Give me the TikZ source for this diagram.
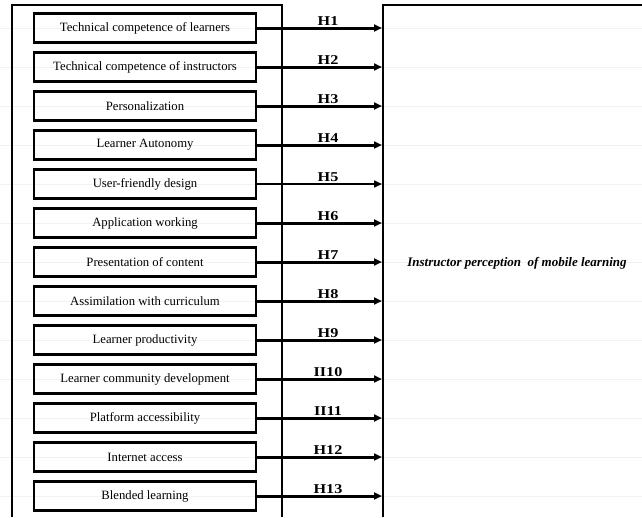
\documentclass[tikz,border=0pt]{standalone}
\usepackage{fontspec}
\setmainfont{Liberation Serif}
\usetikzlibrary{arrows.meta}
\begin{document}
\begin{tikzpicture}[x=1pt,y=-1pt,
  factor/.style={draw,line width=2.2pt,minimum width=222pt,minimum height=29pt,inner sep=0pt,font=\fontsize{12.7}{14}\selectfont},
  hyp/.style={line width=3pt,-{Triangle[length=8pt,width=7pt]}},
  thinhyp/.style={line width=1.6pt,-{Triangle[length=8pt,width=7pt]}},
  hlabel/.style={font=\fontsize{13.5}{15}\selectfont\bfseries,anchor=base,inner sep=0pt,xscale=1.2},
  faint/.style={draw=black!5,line width=0.8pt},
  frame/.style={line width=2.8pt},
]
\useasboundingbox (0,0) rectangle (642,517);
% faint table rules
\foreach \i in {1,...,13}{
  \pgfmathsetmacro{\yy}{28+39*(\i-1)}
  \draw[faint] (0,\yy) -- (642,\yy);
}
% outer frames
\draw[frame] (12,517) -- (12,5) -- (282,5) -- (282,517);
\draw[line width=2pt] (383,517) -- (383,5);
\draw[line width=2.8pt] (382,5) -- (642,5);
% factors
\foreach \i/\t/\h in {
  1/Technical competence of learners/H1,
  2/Technical competence of instructors/H2,
  3/Personalization/H3,
  4/Learner Autonomy/H4,
  5/User-friendly design/H5,
  6/Application working/H6,
  7/Presentation of content/H7,
  8/Assimilation with curriculum/H8,
  9/Learner productivity/H9,
  10/Learner community development/II10,
  11/Platform accessibility/II11,
  12/Internet access/H12,
  13/Blended learning/H13}{
  \pgfmathsetmacro{\yy}{28+39*(\i-1)}
  \node[factor] (f\i) at (145,\yy) {\t};
  \coordinate (t\i) at (382,\yy);
  \node[hlabel] (h\i) at (328,\yy-3) {\h};
}
\foreach \i in {1,2,3,4,6,7,8,9,10,11,12,13}{
  \draw[hyp] (f\i.east) -- (t\i);
}
\draw[thinhyp] (f5.east) -- (t5);
\node[font=\fontsize{13}{15}\selectfont\bfseries\itshape] (out) at (517,263) {Instructor perception\ \ of mobile learning};
\end{tikzpicture}
\end{document}
